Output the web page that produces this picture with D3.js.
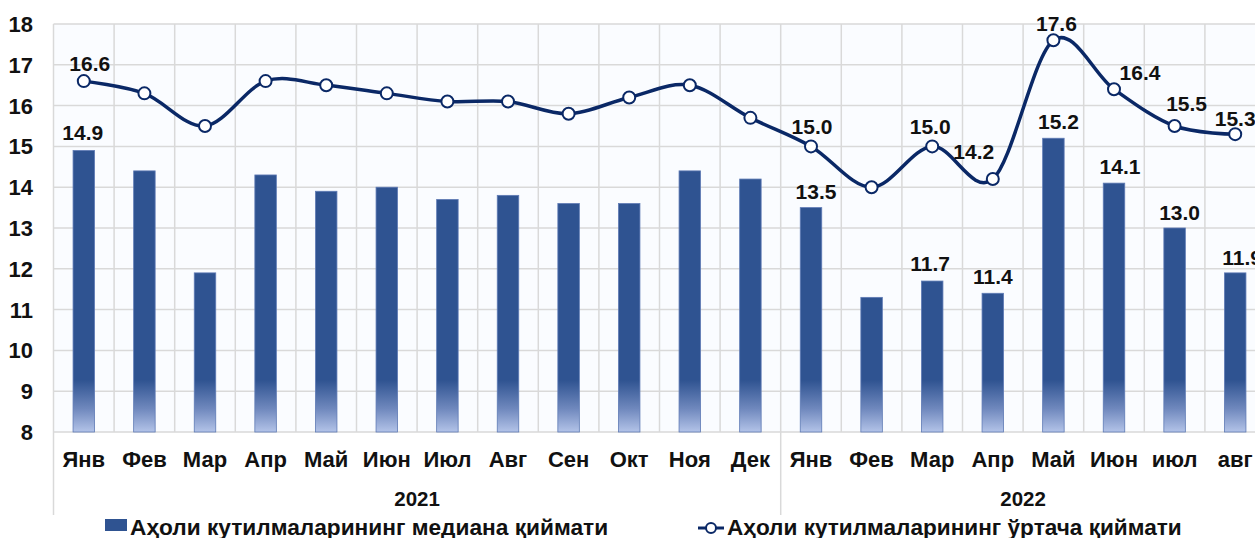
<!DOCTYPE html>
<html><head><meta charset="utf-8">
<script src="https://cdn.jsdelivr.net/npm/d3@7"></script>
<style>html,body{margin:0;padding:0;background:#fff;overflow:hidden}</style>
</head><body>
<svg id="chart" width="1255" height="538"></svg>
<script>
const months = ["Янв","Фев","Мар","Апр","Май","Июн","Июл","Авг","Сен","Окт","Ноя","Дек",
                "Янв","Фев","Мар","Апр","Май","Июн","июл","авг"];
const years = ["2021","2022"];
const yearOfMonth = [0,0,0,0,0,0,0,0,0,0,0,0,1,1,1,1,1,1,1,1];
const medianValues = [14.9,14.4,11.9,14.3,13.9,14.0,13.7,13.8,13.6,13.6,14.4,14.2,
                      13.5,11.3,11.7,11.4,15.2,14.1,13.0,11.9];
const meanValues = [16.6,16.3,15.5,16.6,16.5,16.3,16.1,16.1,15.8,16.2,16.5,15.7,
                    15.0,14.0,15.0,14.2,17.6,16.4,15.5,15.3];
const yTicks = [8,9,10,11,12,13,14,15,16,17,18];
const medianLabelIdx = [0,12,14,15,16,17,18,19];
const meanLabelIdx = [0,12,14,15,16,17,18,19];
const seriesNames = ["Аҳоли кутилмаларининг медиана қиймати","Аҳоли кутилмаларининг ўртача қиймати"];

(function(){
const svg = d3.select("#chart");
const plotL = 53.5, plotT = 24, plotB = 432;
const step = 60.6;
const x = d3.scaleBand().domain(d3.range(months.length)).range([plotL, plotL + step*months.length]).padding(0);
const y = d3.scaleLinear().domain([8,18]).range([plotB, plotT]);
const barColor = "#2f5391", lineColor = "#0a2866";
const font = "'Liberation Sans', Arial, sans-serif";

const defs = svg.append("defs");
const grad = defs.append("linearGradient").attr("id","barGrad")
  .attr("gradientUnits","userSpaceOnUse").attr("x1",0).attr("x2",0).attr("y1",plotB).attr("y2",plotB-52);
grad.append("stop").attr("offset","0%").attr("stop-color","#b3c3e8");
grad.append("stop").attr("offset","45%").attr("stop-color","#6f88bd");
grad.append("stop").attr("offset","100%").attr("stop-color",barColor);

svg.append("rect").attr("x",plotL).attr("y",plotT).attr("width",x.range()[1]-plotL).attr("height",plotB-plotT).attr("fill","#fafcff");

svg.append("g").selectAll("line").data(yTicks).join("line")
  .attr("x1",plotL).attr("x2",x.range()[1]).attr("y1",d=>y(d)).attr("y2",d=>y(d))
  .attr("stroke","#d9d9d9").attr("stroke-width",1.5);
svg.append("g").selectAll("line").data(d3.range(months.length+1)).join("line")
  .attr("x1",d=>plotL+d*x.step()).attr("x2",d=>plotL+d*x.step()).attr("y1",plotT).attr("y2",plotB)
  .attr("stroke","#d9d9d9").attr("stroke-width",1.5);

svg.append("g").selectAll("text").data(yTicks).join("text")
  .attr("x",33).attr("y",d=>y(d)+8).attr("text-anchor","end")
  .attr("font-family",font).attr("font-weight","bold").attr("font-size",22).attr("fill","#111")
  .text(d=>d);

const sepIdx = [0,12];
svg.append("g").selectAll("line").data(sepIdx).join("line")
  .attr("x1",d=>plotL+d*x.step()).attr("x2",d=>plotL+d*x.step()).attr("y1",plotB).attr("y2",515)
  .attr("stroke","#d9d9d9").attr("stroke-width",1.5);

svg.append("g").selectAll("text").data(months).join("text")
  .attr("x",(d,i)=>x(i)+x.bandwidth()/2).attr("y",467).attr("text-anchor","middle")
  .attr("font-family",font).attr("font-weight","bold").attr("font-size",22).attr("fill","#111")
  .text(d=>d);
svg.append("g").selectAll("text").data(years).join("text")
  .attr("x",(d,k)=>{const idx=d3.range(months.length).filter(i=>yearOfMonth[i]===k);
     return (x(idx[0]) + x(idx[idx.length-1])+x.bandwidth())/2;})
  .attr("y",506).attr("text-anchor","middle")
  .attr("font-family",font).attr("font-weight","bold").attr("font-size",20.5).attr("fill","#111")
  .text(d=>d);

const bw = 21.5;
svg.append("g").selectAll("rect").data(medianValues).join("rect")
  .attr("x",(d,i)=>x(i)+x.bandwidth()/2-bw/2).attr("y",d=>y(d))
  .attr("width",bw).attr("height",d=>plotB-y(d))
  .attr("fill","url(#barGrad)").attr("stroke","#5f7bb5").attr("stroke-width",0.8);

const line = d3.line().x((d,i)=>x(i)+x.bandwidth()/2).y(d=>y(d)).curve(d3.curveCatmullRom.alpha(0));
svg.append("path").datum(meanValues).attr("d",line).attr("fill","none")
  .attr("stroke",lineColor).attr("stroke-width",3.5);
svg.append("g").selectAll("circle").data(meanValues).join("circle")
  .attr("cx",(d,i)=>x(i)+x.bandwidth()/2).attr("cy",d=>y(d)).attr("r",6)
  .attr("fill","#fff").attr("stroke",lineColor).attr("stroke-width",2);

const meanLabelShift = {0:[6,-10],12:[1,-12],14:[-2,-12],15:[-19,-20],16:[3,-9],17:[26,-9],18:[12,-15],19:[0,-8]};
svg.append("g").selectAll("text").data(meanLabelIdx).join("text")
  .attr("x",i=>x(i)+x.bandwidth()/2+meanLabelShift[i][0]).attr("y",i=>y(meanValues[i])+meanLabelShift[i][1])
  .attr("text-anchor","middle").attr("font-family",font).attr("font-weight","bold").attr("font-size",21).attr("fill","#111")
  .text(i=>meanValues[i].toFixed(1));
const medianLabelShift = {0:[-1,-10],12:[5,-9],14:[-2,-10],15:[0,-9],16:[5,-9],17:[6,-9],18:[5,-8],19:[7,-8]};
svg.append("g").selectAll("text").data(medianLabelIdx).join("text")
  .attr("x",i=>x(i)+x.bandwidth()/2+medianLabelShift[i][0]).attr("y",i=>y(medianValues[i])+medianLabelShift[i][1])
  .attr("text-anchor","middle").attr("font-family",font).attr("font-weight","bold").attr("font-size",21).attr("fill","#111")
  .text(i=>medianValues[i].toFixed(1));

const lg = svg.append("g");
lg.append("rect").attr("x",105).attr("y",519).attr("width",22).attr("height",12).attr("fill",barColor);
lg.append("text").attr("x",130).attr("y",535).attr("font-family",font).attr("font-weight","bold")
  .attr("font-size",22.7).attr("fill","#111").text(seriesNames[0]);
lg.append("line").attr("x1",698).attr("x2",724).attr("y1",528).attr("y2",528).attr("stroke",lineColor).attr("stroke-width",3);
lg.append("circle").attr("cx",711).attr("cy",528).attr("r",5).attr("fill","#fff").attr("stroke",lineColor).attr("stroke-width",2);
lg.append("text").attr("x",727).attr("y",535).attr("font-family",font).attr("font-weight","bold")
  .attr("font-size",22.6).attr("fill","#111").text(seriesNames[1]);
})();
</script>
</body></html>
